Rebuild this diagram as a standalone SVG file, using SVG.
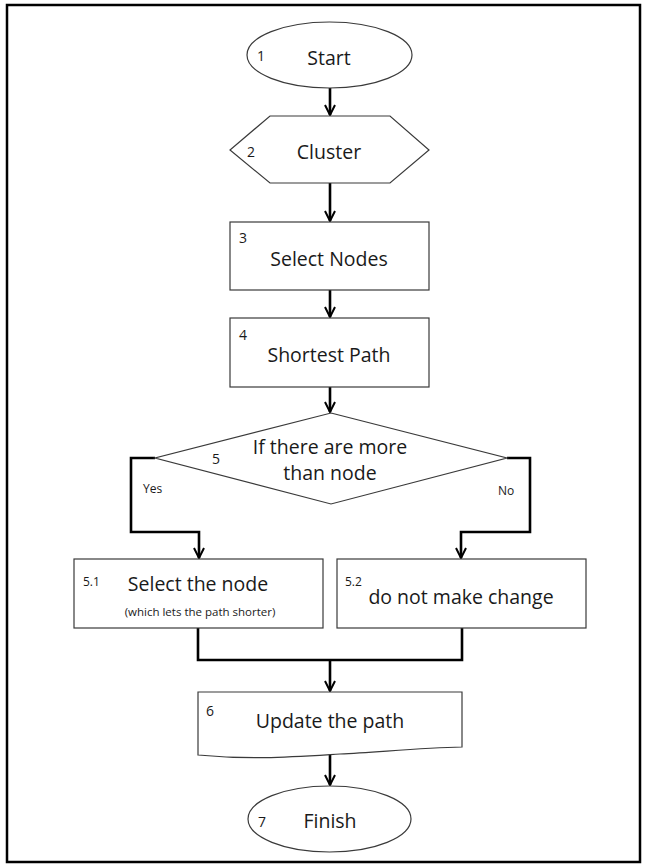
<svg xmlns="http://www.w3.org/2000/svg" width="646" height="867" viewBox="0 0 646 867">
<style>
.shape{fill:#fff;stroke:#3a3a3a;stroke-width:1.2}
.conn{fill:none;stroke:#000;stroke-width:2.6}
.lbl{font-family:"Open Sans","Liberation Sans",sans-serif;fill:#1a1a1a;text-anchor:middle}
.main{font-size:19.5px}
.num{font-family:"Open Sans","Liberation Sans",sans-serif;fill:#1a1a1a;font-size:14px}
.sm{font-family:"Open Sans","Liberation Sans",sans-serif;fill:#1a1a1a;font-size:12px}
</style>
<defs>
<marker id="ah" viewBox="0 0 12 12" refX="11" refY="6" markerWidth="12" markerHeight="12" markerUnits="userSpaceOnUse" orient="auto">
<path d="M1,1 L11,6 L1,11" fill="none" stroke="#000" stroke-width="2"/>
</marker>
</defs>
<rect x="0" y="0" width="646" height="867" fill="#fff"/>
<rect id="frame" x="7" y="5" width="633" height="857" fill="none" stroke="#000" stroke-width="2.5"/>
<g id="connectors">
<path class="conn" d="M330,88 V115" marker-end="url(#ah)"/>
<path class="conn" d="M330,183 V221" marker-end="url(#ah)"/>
<path class="conn" d="M330,290 V317" marker-end="url(#ah)"/>
<path class="conn" d="M330,387 V412" marker-end="url(#ah)"/>
<path class="conn" d="M155,458 H131 V532 H199 V558" marker-end="url(#ah)"/>
<path class="conn" d="M507,458 H530 V532 H461 V558" marker-end="url(#ah)"/>
<path class="conn" d="M198,628 V660 H462 V628"/>
<path class="conn" d="M330,660 V691" marker-end="url(#ah)"/>
<path class="conn" d="M330,752 V785" marker-end="url(#ah)"/>
<text class="sm" x="143" y="493">Yes</text>
<text class="sm" x="498" y="495">No</text>
</g>
<g id="n1">
<ellipse class="shape" cx="329.5" cy="55" rx="82.5" ry="33"/>
<text class="num" x="257" y="61">1</text>
<text class="lbl main" x="329" y="65">Start</text>
</g>
<g id="n2">
<polygon class="shape" points="270,116 390,116 429,150 390,183 270,183 230,150"/>
<text class="num" x="247" y="157">2</text>
<text class="lbl main" x="329" y="159">Cluster</text>
</g>
<g id="n3">
<rect class="shape" x="230" y="222" width="199" height="68"/>
<text class="num" x="239" y="243">3</text>
<text class="lbl main" x="329" y="266">Select Nodes</text>
</g>
<g id="n4">
<rect class="shape" x="230" y="318" width="199" height="69"/>
<text class="num" x="239" y="340">4</text>
<text class="lbl main" x="329" y="362">Shortest Path</text>
</g>
<g id="n5">
<polygon class="shape" points="331,413 507,458 331,504 155,458"/>
<text class="num" x="212" y="464">5</text>
<text class="lbl main" x="330" y="454">If there are more</text>
<text class="lbl main" x="330" y="480">than node</text>
</g>
<g id="n51">
<rect class="shape" x="74" y="559" width="249" height="69"/>
<text class="sm" x="83" y="586">5.1</text>
<text class="lbl main" x="198" y="591">Select the node</text>
<text class="lbl" style="font-size:11.5px" x="200" y="616">(which lets the path shorter)</text>
</g>
<g id="n52">
<rect class="shape" x="337" y="559" width="249" height="69"/>
<text class="sm" x="345" y="586">5.2</text>
<text class="lbl main" x="461" y="604">do not make change</text>
</g>
<g id="n6">
<path class="shape" d="M198,692 H462 V747 C420,748 380,752 340,754 C290,757 250,760 198,755 Z"/>
<text class="num" x="206" y="716">6</text>
<text class="lbl main" x="330" y="728">Update the path</text>
</g>
<g id="n7">
<ellipse class="shape" cx="329.5" cy="819" rx="81.5" ry="33"/>
<text class="num" x="258" y="827">7</text>
<text class="lbl main" x="330" y="828">Finish</text>
</g>
</svg>
